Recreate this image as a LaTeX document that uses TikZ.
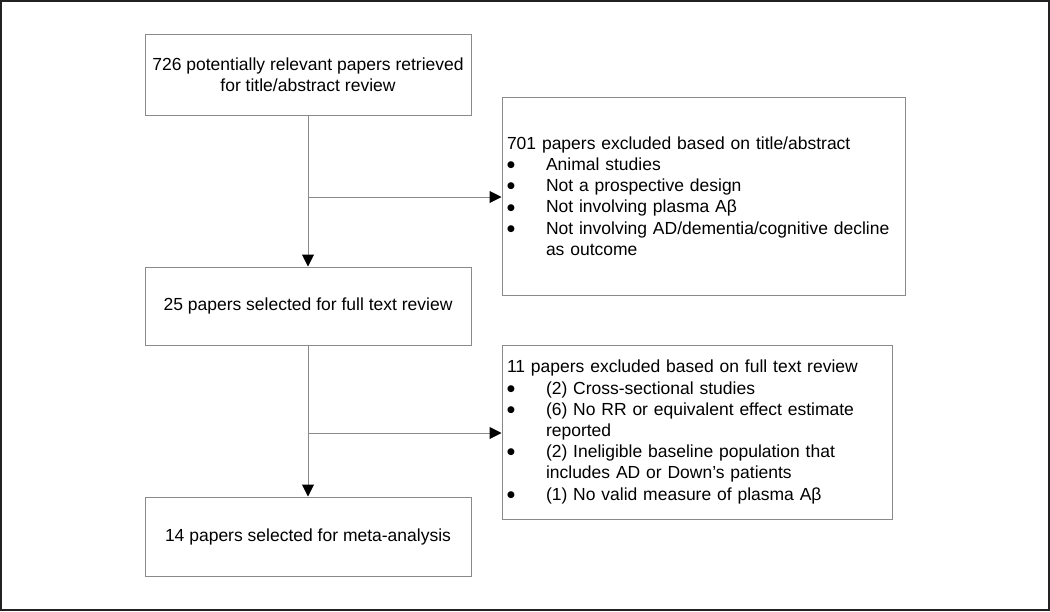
\documentclass[tikz,border=0pt]{standalone}
\usepackage{fontspec}
\setmainfont{Liberation Sans}
\newfontfamily\dotfont{DejaVu Sans}
\usetikzlibrary{arrows.meta}

\definecolor{linegray}{HTML}{8A8A8A}
\definecolor{framegray}{HTML}{222222}
\newcommand{\boxfont}{\fontsize{17.5}{21.2}\selectfont}
\newcommand{\itemdot}{\makebox[39pt][l]{\raisebox{2.8pt}{\dotfont\fontsize{9}{10}\selectfont ●}}}

\begin{document}
\begin{tikzpicture}[x=1pt, y=-1pt,
    box/.style={draw=linegray, line width=1pt, minimum width=326pt, inner sep=0pt, align=center, font=\boxfont},
    excl/.style={draw=linegray, line width=1pt, inner xsep=5pt, inner ysep=0pt, align=left, font=\boxfont},
    flow/.style={draw=linegray, line width=1pt, -{Triangle[length=12pt, width=12pt, color=black]}}]
        \useasboundingbox (0,0) rectangle (1050,611);
        \draw [line width=2pt, framegray] (1,1) rectangle (1049,610);

        \node [box, minimum height=81pt] (retrieved) at (308, 74.5) {726 potentially relevant papers retrieved\\for title/abstract review};
        \node [box, minimum height=78pt] (fulltext) at (308, 306) {25 papers selected for full text review};
        \node [box, minimum height=79pt] (meta) at (308, 536.5) {14 papers selected for meta-analysis};

        \node [excl, text width=393pt, minimum height=198pt] (excltitle) at (703.5, 196) {701 papers excluded based on title/abstract\\
            \itemdot Animal studies\\
            \itemdot Not a prospective design\\
            \itemdot Not involving plasma Aβ\\
            \itemdot Not involving AD/dementia/cognitive decline\\
            \hspace*{39pt}as outcome};
        \node [excl, text width=380pt, minimum height=174pt] (exclfull) at (697, 432) {11 papers excluded based on full text review\\
            \itemdot (2) Cross-sectional studies\\
            \itemdot (6) No RR or equivalent effect estimate\\
            \hspace*{39pt}reported\\
            \itemdot (2) Ineligible baseline population that\\
            \hspace*{39pt}includes AD or Down’s patients\\
            \itemdot (1) No valid measure of plasma Aβ};

        \coordinate (split1) at (308, 197);
        \coordinate (split2) at (308, 433);

        \draw [flow] (retrieved) -- (fulltext);
        \draw [flow] (split1) -- (split1 -| excltitle.west);
        \draw [flow] (fulltext) -- (meta);
        \draw [flow] (split2) -- (split2 -| exclfull.west);
      \end{tikzpicture}
\end{document}
